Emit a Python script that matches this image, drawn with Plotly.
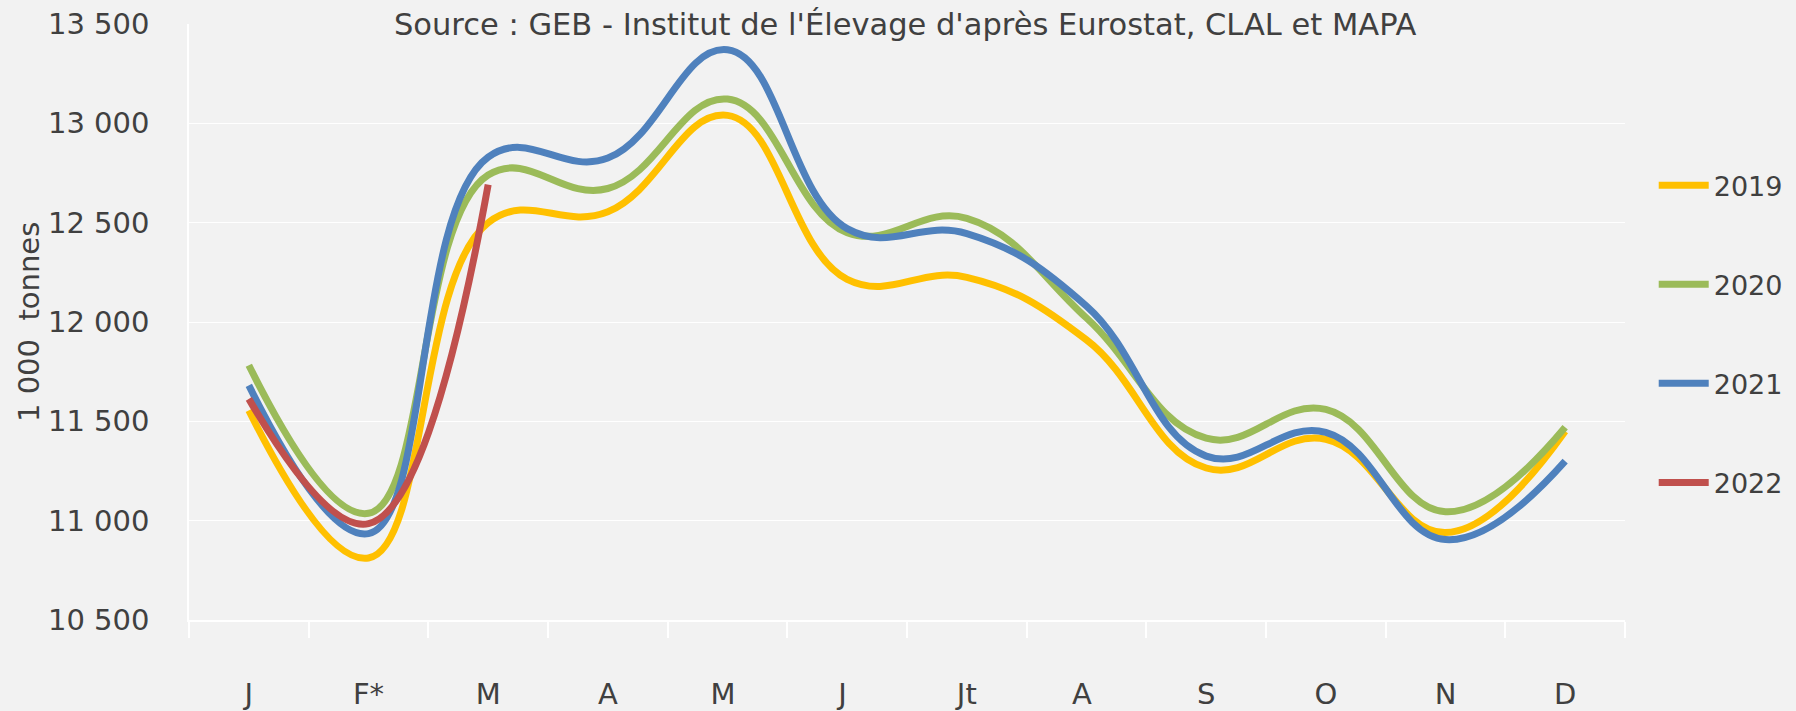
import plotly.graph_objects as go

months = ["J", "F*", "M", "A", "M ", "J ", "Jt", "A ", "S", "O", "N", "D"]
y2019 = [11555, 10812, 12500, 12555, 13040, 12215, 12225, 11910, 11265, 11410, 10940, 11450]
y2020 = [11782, 11037, 12740, 12672, 13122, 12450, 12522, 12020, 11415, 11560, 11045, 11470]
y2021 = [11681, 10935, 12830, 12825, 13370, 12470, 12445, 12080, 11325, 11445, 10905, 11300]
y2022 = [11613, 10985, 12692]

series = [("2019", y2019, "#FFC000"), ("2020", y2020, "#9BBB59"),
          ("2021", y2021, "#4F81BD"), ("2022", y2022, "#C0504D")]

FONT = "DejaVu Sans"
TXT = "#404040"

fig = go.Figure()
for i, (name, vals, col) in enumerate(series):
    fig.add_trace(go.Scatter(
        x=months[:len(vals)], y=vals, name=name, mode="lines",
        line=dict(color=col, width=7, shape="spline", smoothing=1.2),
        legendgroup=name,
    ))

fig.update_layout(
    width=1796, height=711,
    paper_bgcolor="#F2F2F2", plot_bgcolor="#F2F2F2",
    margin=dict(l=189, r=171, t=24, b=91, autoexpand=False),
    font=dict(family=FONT, size=26, color=TXT),
    showlegend=True,
    legend=dict(x=1.02, y=0.77, xanchor="left", yanchor="top",
                font=dict(size=27, color=TXT), tracegroupgap=61,
                itemwidth=50, bgcolor="rgba(0,0,0,0)"),
    xaxis=dict(type="category", tickson="boundaries", ticks="outside",
               range=[-0.5, 11.5], automargin=False,
               ticklen=16, tickcolor="white", tickwidth=1.5,
               showgrid=False, showline=True, linecolor="white", linewidth=1.5,
               tickfont=dict(size=29, color=TXT), ticklabelstandoff=47),
    yaxis=dict(range=[10500, 13500], dtick=500, tickformat=",", automargin=False,
               showgrid=True, gridcolor="white", gridwidth=1.2,
               zeroline=False, showline=True, linecolor="white", linewidth=1.5,
               tickfont=dict(size=29, color=TXT), ticklabelstandoff=32),
    separators=", ",
)

fig.add_annotation(text="Source : GEB - Institut de l'Élevage d'après Eurostat, CLAL et MAPA",
                   xref="paper", yref="paper", x=0.5, y=1.0, xanchor="center", yanchor="middle",
                   showarrow=False, font=dict(size=30.5, color=TXT), xshift=-2, yshift=0)
fig.add_annotation(text="1 000  tonnes", xref="paper", yref="paper", x=0, y=0.5,
                   xanchor="center", yanchor="middle",
                   xshift=-160, textangle=-90, showarrow=False,
                   font=dict(size=29, color=TXT))

fig.write_html("out.html", config={"displayModeBar": False},
               post_script="document.body.style.margin='0';")
